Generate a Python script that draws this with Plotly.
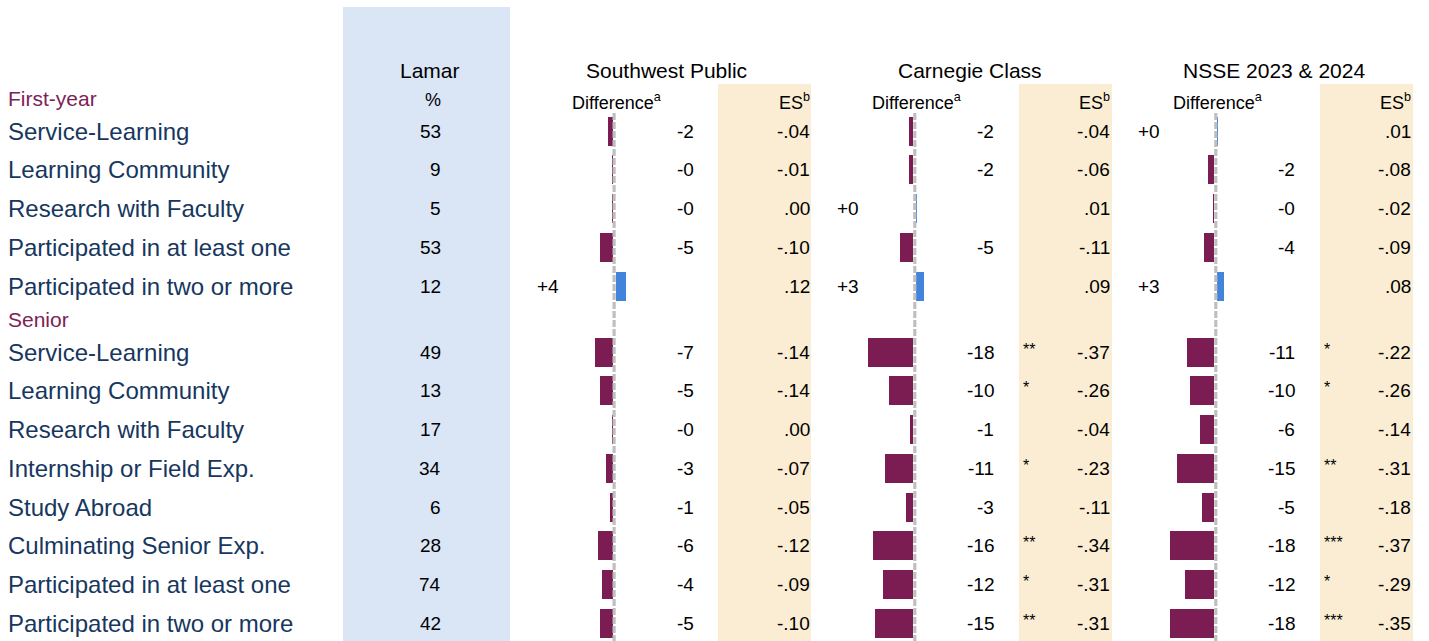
import plotly.graph_objects as go

# ---------------- data ----------------
fy_items = ["Service-Learning", "Learning Community", "Research with Faculty",
            "Participated in at least one", "Participated in two or more"]
sr_items = ["Service-Learning", "Learning Community", "Research with Faculty",
            "Internship or Field Exp.", "Study Abroad", "Culminating Senior Exp.",
            "Participated in at least one", "Participated in two or more"]

lamar_fy = [53, 9, 5, 53, 12]
lamar_sr = [49, 13, 17, 34, 6, 28, 74, 42]

groups = ["Southwest Public", "Carnegie Class", "NSSE 2023 & 2024"]

diff_fy = {
    "Southwest Public": [-2.1, -0.4, -0.3, -5.4, 3.8],
    "Carnegie Class": [-1.7, -1.8, 0.4, -5.3, 3.2],
    "NSSE 2023 & 2024": [0.4, -2.4, -0.4, -4.1, 2.8],
}
diff_sr = {
    "Southwest Public": [-7.1, -5.1, -0.1, -2.9, -1.4, -5.9, -4.3, -5.1],
    "Carnegie Class": [-18.1, -9.6, -1.3, -11.3, -2.9, -16.1, -12.1, -15.3],
    "NSSE 2023 & 2024": [-10.9, -9.7, -5.7, -14.9, -4.9, -17.7, -11.7, -17.7],
}
es_fy = {
    "Southwest Public": [-0.04, -0.01, 0.00, -0.10, 0.12],
    "Carnegie Class": [-0.04, -0.06, 0.01, -0.11, 0.09],
    "NSSE 2023 & 2024": [0.01, -0.08, -0.02, -0.09, 0.08],
}
es_sr = {
    "Southwest Public": [-0.14, -0.14, 0.00, -0.07, -0.05, -0.12, -0.09, -0.10],
    "Carnegie Class": [-0.37, -0.26, -0.04, -0.23, -0.11, -0.34, -0.31, -0.31],
    "NSSE 2023 & 2024": [-0.22, -0.26, -0.14, -0.31, -0.18, -0.37, -0.29, -0.35],
}
sig_fy = {
    "Southwest Public": ["", "", "", "", ""],
    "Carnegie Class": ["", "", "", "", ""],
    "NSSE 2023 & 2024": ["", "", "", "", ""],
}
sig_sr = {
    "Southwest Public": ["", "", "", "", "", "", "", ""],
    "Carnegie Class": ["**", "*", "", "*", "", "**", "*", "**"],
    "NSSE 2023 & 2024": ["*", "*", "", "**", "", "***", "*", "***"],
}

# ---------------- layout constants ----------------
W, H = 1429, 641
FONT = "Liberation Sans, Arial, sans-serif"
PURPLE = "#7B1C52"
BLUE = "#4283DC"
NAVY = "#17375E"
HEAD_PURPLE = "#7D2257"
BG_BLUE = "#DAE5F6"
BG_BEIGE = "#FBEDD3"
DASH = "#BFBFBF"

step = 38.75
fy_y = [131 + step * i for i in range(len(fy_items))]
sr_y = [352 + step * i for i in range(len(sr_items))]
fy_head_y, sr_head_y = 98, 319

zero_neg = [612.6, 913.3, 1214.3]   # where negative bars end
zero_pos = [615.8, 916.2, 1217.2]   # where positive bars start
line_x = [614.1, 914.8, 1215.8]
title_cx = [666, 970, 1274]
px_per_unit = 2.5
half_px = 70

fig = go.Figure()

def fmt_diff(v):
    return ("+" if v >= 0 else "-") + str(int(round(abs(v))))

def fmt_es(v):
    s = f"{v:.2f}"
    s = s.replace("0.", ".", 1)
    if s == "-.00":
        s = ".00"
    return s

ann = []
def txt(x, y, t, size, color="#000000", anchor="left", yanchor="middle"):
    ann.append(dict(x=x, y=y, xref="x", yref="y", text=t, showarrow=False,
                    xanchor=anchor, yanchor=yanchor,
                    font=dict(family=FONT, size=size, color=color)))

shapes = []
# background columns
shapes.append(dict(type="rect", xref="x", yref="y", x0=343, x1=510, y0=7, y1=H,
                   fillcolor=BG_BLUE, line=dict(width=0), layer="below"))
for x0, x1 in [(718, 811), (1019, 1112), (1320, 1413)]:
    shapes.append(dict(type="rect", xref="x", yref="y", x0=x0, x1=x1, y0=84, y1=H,
                       fillcolor=BG_BEIGE, line=dict(width=0), layer="below"))

all_y = fy_y + sr_y
axis_n = 2
for gi, g in enumerate(groups):
    vals = diff_fy[g] + diff_sr[g]
    for zero, cond, color in [(zero_neg[gi], lambda v: v < 0, PURPLE),
                              (zero_pos[gi], lambda v: v >= 0, BLUE)]:
        xs = [v for v in vals if cond(v)]
        ys = [y for v, y in zip(vals, all_y) if cond(v)]
        axname = f"x{axis_n}"
        fig.add_trace(go.Bar(x=xs, y=ys, orientation="h", width=29,
                             marker=dict(color=color, line=dict(width=0)),
                             xaxis=axname, yaxis="y", showlegend=False, hoverinfo="skip"))
        fig.update_layout(**{
            f"xaxis{axis_n}": dict(domain=[(zero - half_px) / W, (zero + half_px) / W],
                                   range=[-half_px / px_per_unit, half_px / px_per_unit],
                                   visible=False, fixedrange=True, anchor="y")
        })
        axis_n += 1
    z = zero_neg[gi]
    # zero dashed line
    shapes.append(dict(type="line", xref="x", yref="y", x0=line_x[gi], x1=line_x[gi], y0=113, y1=H,
                       line=dict(color=DASH, width=3.2, dash="7px,2px"), layer="above"))
    # headers
    txt(title_cx[gi], 70, g, 21, anchor="center")
    txt(z - 43, 101, "Difference<sup>a</sup>", 18)
    txt(z + 199, 101, "ES<sup>b</sup>", 18, anchor="right")
    # values
    es_vals = es_fy[g] + es_sr[g]
    sig_vals = sig_fy[g] + sig_sr[g]
    for v, e, s, y in zip(vals, es_vals, sig_vals, all_y):
        if v < 0:
            txt(z + 83, y, fmt_diff(v), 19, anchor="right")
        else:
            txt(z - 78, y, fmt_diff(v), 19, anchor="left")
        txt(z + 199, y, fmt_es(e), 19, anchor="right")
        if s:
            txt(z + 108, y - 3, s, 16, anchor="left")

# left labels and Lamar column
txt(430, 70, "Lamar", 21, anchor="center")
txt(443, 100, "%", 18, anchor="right")
txt(6, fy_head_y, "First-year", 21, color=HEAD_PURPLE)
txt(6, sr_head_y, "Senior", 21, color=HEAD_PURPLE)
for name, v, y in zip(fy_items + sr_items, lamar_fy + lamar_sr, all_y):
    txt(6, y, name, 24, color=NAVY)
    txt(443, y, str(v), 19, anchor="right")

fig.update_layout(
    width=W, height=H,
    margin=dict(l=0, r=0, t=0, b=0),
    paper_bgcolor="white", plot_bgcolor="rgba(0,0,0,0)",
    xaxis=dict(range=[0, W], domain=[0, 1], visible=False, fixedrange=True),
    yaxis=dict(range=[H, 0], domain=[0, 1], visible=False, fixedrange=True),
    shapes=shapes, annotations=ann, bargap=0, showlegend=False,
    font=dict(family=FONT),
)

fig.write_html("out.html", config={"displayModeBar": False},
               post_script="document.body.style.margin='0px';document.body.style.padding='0px';")
